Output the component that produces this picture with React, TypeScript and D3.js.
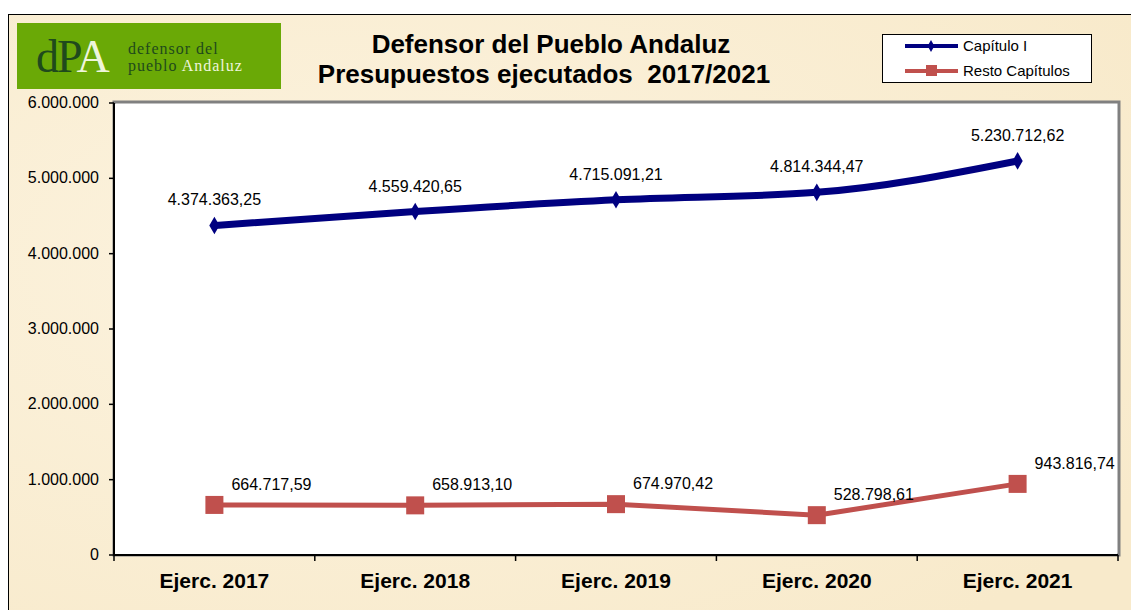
import React from "react";
import * as d3 from "d3";

const categories = ["Ejerc. 2017", "Ejerc. 2018", "Ejerc. 2019", "Ejerc. 2020", "Ejerc. 2021"];
const capituloI = [4374363.25, 4559420.65, 4715091.21, 4814344.47, 5230712.62];
const restoCapitulos = [664717.59, 658913.10, 674970.42, 528798.61, 943816.74];
const yTicks = [0, 1000000, 2000000, 3000000, 4000000, 5000000, 6000000];
const seriesNames = ["Capítulo I", "Resto Capítulos"];

const W = 1131;
const H = 610;
const plot = { left: 114, right: 1118, top: 103, bottom: 555 };
const FONT = "'Liberation Sans', Arial, sans-serif";
const SERIF = "'Liberation Serif', 'DejaVu Serif', serif";

const fmtInt = (v: number) => (v === 0 ? "0" : d3.format(",")(v).replace(/,/g, "."));
const fmtDec = (v: number) => {
  const s = v.toFixed(2);
  const [i, d] = s.split(".");
  return i.replace(/\B(?=(\d{3})+(?!\d))/g, ".") + "," + d;
};

export default function App() {
  const x = d3.scaleBand<string>().domain(categories).range([plot.left, plot.right]);
  const y = d3.scaleLinear().domain([0, 6000000]).range([plot.bottom, plot.top]);
  const cx = (c: string) => (x(c) as number) + x.bandwidth() / 2;
  const line = d3.line<[number, number]>().x((d) => d[0]).y((d) => d[1]);
  const pts1: [number, number][] = capituloI.map((v, i) => [cx(categories[i]), y(v)]);
  const pts2: [number, number][] = restoCapitulos.map((v, i) => [cx(categories[i]), y(v)]);
  const boundaries = categories.map((c) => x(c) as number).concat([plot.right]);

  const navy = "#000080";
  const red = "#c0504d";

  return (
    <svg width={W} height={H} style={{ position: "absolute", left: 0, top: 0 }} fontFamily={FONT}>
      <defs>
        <radialGradient id="bg1" cx="0.3" cy="0.4" r="0.8">
          <stop offset="0" stopColor="#fcf3df" />
          <stop offset="1" stopColor="#f8eacb" />
        </radialGradient>
      </defs>
      <rect x={0} y={0} width={W} height={H} fill="#ffffff" />
      <rect x={8.5} y={14.5} width={W} height={H} fill="url(#bg1)" stroke="#000" strokeWidth={1} />

      {/* Logo */}
      <rect x={17} y={23} width={264} height={66} fill="#6aa906" />
      <text x={36} y={72} fontFamily={SERIF} fontSize={46} fill="#1f4a1c" letterSpacing={-2}>
        dP<tspan fill="#eef5dc">A</tspan>
      </text>
      <text x={128} y={54} fontFamily={SERIF} fontSize={16} fill="#1f4a1c" letterSpacing={1}>defensor del</text>
      <text x={128} y={71} fontFamily={SERIF} fontSize={16} fill="#1f4a1c" letterSpacing={1}>
        pueblo <tspan fill="#eef5dc">Andaluz</tspan>
      </text>

      {/* Title */}
      <text x={551} y={53} textAnchor="middle" fontSize={26} fontWeight="bold" fill="#000">Defensor del Pueblo Andaluz</text>
      <text x={544} y={83} textAnchor="middle" fontSize={26} fontWeight="bold" fill="#000" style={{ whiteSpace: "pre" }}>
        Presupuestos ejecutados  2017/2021
      </text>

      {/* Legend */}
      <rect x={882.5} y={34.5} width={209} height={48} fill="#fff" stroke="#000" strokeWidth={1} />
      <line x1={905} x2={958} y1={46} y2={46} stroke={navy} strokeWidth={4} />
      <path d={d3.symbol(d3.symbolDiamond, 40)() as string} transform="translate(931,46)" fill={navy} />
      <text x={963} y={51} fontSize={15} fill="#000">{seriesNames[0]}</text>
      <line x1={905} x2={958} y1={71} y2={71} stroke={red} strokeWidth={4} />
      <rect x={926} y={65} width={11} height={11} fill={red} />
      <text x={963} y={76} fontSize={15} fill="#000">{seriesNames[1]}</text>

      {/* Plot area */}
      <rect x={plot.left} y={plot.top - 1} width={plot.right - plot.left + 1} height={plot.bottom - plot.top + 1} fill="#fff" stroke="#808080" strokeWidth={3} />
      <rect x={plot.left} y={plot.top + 1} width={plot.right - plot.left - 1} height={plot.bottom - plot.top} fill="#fff" />
      <line x1={plot.left} x2={plot.right} y1={plot.bottom} y2={plot.bottom} stroke="#000" strokeWidth={2} />
      <line x1={plot.left} x2={plot.left} y1={plot.top} y2={plot.bottom} stroke="#000" strokeWidth={2} />

      {/* Y axis */}
      {yTicks.map((t) => (
        <g key={t}>
          <line x1={plot.left - 5} x2={plot.left} y1={y(t)} y2={y(t)} stroke="#000" strokeWidth={1.5} />
          <text x={99} y={y(t) + 5} textAnchor="end" fontSize={16} fill="#000">{fmtInt(t)}</text>
        </g>
      ))}

      {/* X axis */}
      {boundaries.map((b, i) => (
        <line key={i} x1={b} x2={b} y1={plot.bottom} y2={plot.bottom + 6} stroke="#000" strokeWidth={1.5} />
      ))}
      {categories.map((c) => (
        <text key={c} x={cx(c)} y={588} textAnchor="middle" fontSize={21} fontWeight="bold" fill="#000">{c}</text>
      ))}

      {/* Series: Resto */}
      <path d={line(pts2) as string} fill="none" stroke={red} strokeWidth={5} />
      {pts2.map((p, i) => (
        <rect key={i} x={p[0] - 9} y={p[1] - 9} width={18} height={18} fill={red} />
      ))}
      {pts2.map((p, i) => (
        <text key={i} x={p[0] + 17} y={p[1] - 15} fontSize={16} fill="#000">{fmtDec(restoCapitulos[i])}</text>
      ))}

      {/* Series: Capitulo I */}
      <path d={d3.line<[number, number]>().curve(d3.curveMonotoneX)(pts1) as string} fill="none" stroke={navy} strokeWidth={7} />
      {pts1.map((p, i) => (
        <path key={i} d={d3.symbol(d3.symbolDiamond, 90)() as string} transform={`translate(${p[0]},${p[1]})`} fill={navy} />
      ))}
      {pts1.map((p, i) => (
        <text key={i} x={p[0]} y={p[1] - 20} textAnchor="middle" fontSize={16} fill="#000">{fmtDec(capituloI[i])}</text>
      ))}
    </svg>
  );
}
